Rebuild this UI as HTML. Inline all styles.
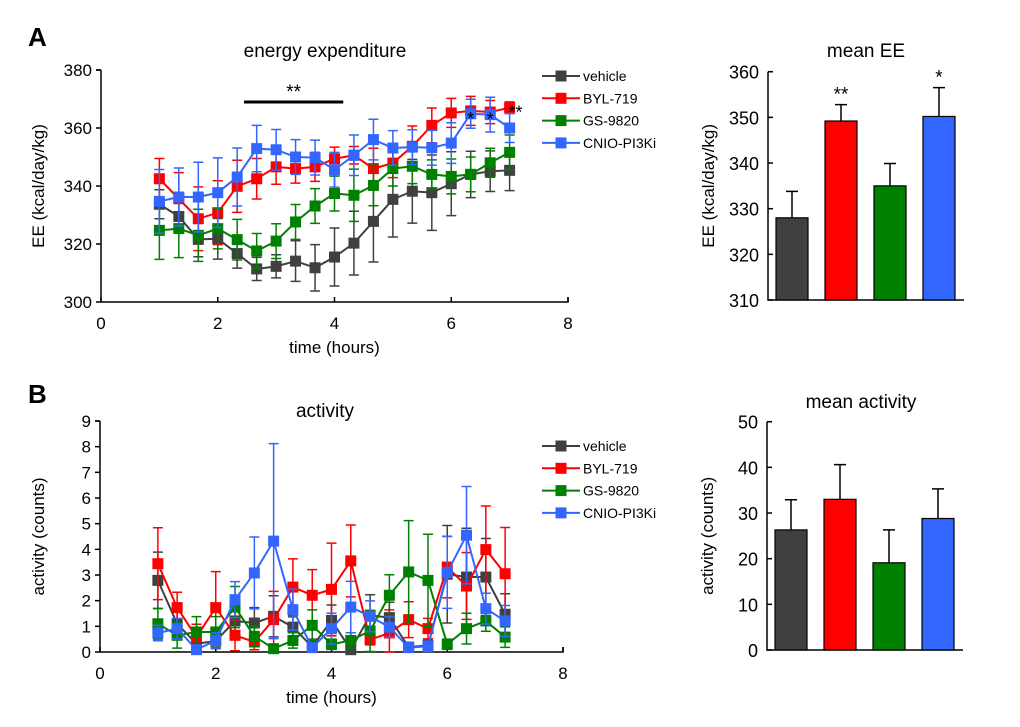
<!DOCTYPE html>
<html><head><meta charset="utf-8"><style>
body{margin:0;background:#fff;}
svg{display:block;font-family:"Liberation Sans",Arial,sans-serif;}
</style></head><body>
<svg id="fig" width="1020" height="727" viewBox="0 0 1020 727"></svg>
<script>
const xHours=[1,1.333,1.667,2,2.333,2.667,3,3.333,3.667,4,4.333,4.667,5,5.333,5.667,6,6.333,6.667,7];
const seriesNames=["vehicle","BYL-719","GS-9820","CNIO-PI3Ki"];
const colors=["#404040","#ff0000","#008000","#3366ff"];
const eeVehicle=[333.7,329.5,321.6,321.8,316.7,311.4,312.3,314.1,311.8,315.5,320.3,327.8,335.4,338.2,337.7,340.8,344.0,345.1,345.4];
const eeBYL=[342.5,335.6,328.7,330.8,339.9,342.5,346.6,346.0,346.6,349.4,350.6,346.0,347.9,353.7,360.9,365.2,365.9,365.5,367.0];
const eeGS=[324.7,325.3,323.0,325.3,321.5,317.6,321.0,327.6,333.1,337.4,336.8,340.2,346.0,346.8,344.0,343.3,344.0,348.0,351.6];
const eeCNIO=[334.7,336.2,336.2,337.7,343.1,352.9,352.5,350.0,349.8,345.6,350.6,356.0,353.1,353.4,353.2,354.8,364.9,364.6,360.0];
const eeErrVehicle=[5,5,6,7,5,4,4,7,8,10,11,14,13,11,13,11,8,7,7];
const eeErrBYL=[7,9,11,11,9,7,6,5,5,4,3,7,5,7,6,5,5,4,2];
const eeErrGS=[10,10,9,7,7,6,6,6,6,6,9,7,6,6,5,6,6,5,6];
const eeErrCNIO=[11,10,12,12,10,8,7,6,6,6,7,7,6,6,6,7,5,6,5];
const actVehicle=[2.79,1.10,0.32,0.43,1.21,1.13,1.39,0.97,0.2,1.23,0.09,1.43,1.34,0.19,0.26,3.03,2.92,2.92,1.47];
const actBYL=[3.44,1.73,0.58,1.73,0.65,0.39,1.26,2.53,2.21,2.44,3.55,0.48,0.74,1.26,0.91,3.31,2.57,3.99,3.05];
const actGS=[1.1,0.65,0.78,0.78,1.75,0.61,0.13,0.45,1.04,0.3,0.45,0.82,2.21,3.12,2.79,0.3,0.91,1.21,0.58];
const actCNIO=[0.74,0.91,0.09,0.45,2.04,3.08,4.32,1.65,0.17,0.91,1.75,1.39,0.97,0.17,0.22,3.1,4.55,1.69,1.21];
const actErrVehicle=[1.1,0.6,0.3,0.3,0.6,0.6,0.8,0.4,0.3,0.6,0.1,0.8,0.6,0.1,0.2,1.9,1.9,1.5,0.8];
const actErrBYL=[1.4,0.6,0.5,1.4,0.6,0.3,1.1,1.1,1.0,1.8,1.4,0.2,0.9,0.7,0.4,1.2,1.3,1.7,1.8];
const actErrGS=[0.6,0.5,0.6,0.6,0.8,0.4,0.1,0.3,0.6,0.2,0.3,0.8,0.8,2.0,1.8,0.2,0.6,0.4,0.4];
const actErrCNIO=[0.3,0.4,0.1,0.3,0.7,1.4,3.8,0.8,0.1,0.6,1.0,0.6,0.4,0.1,0.2,1.4,1.9,0.6,0.6];
const meanEE=[328,349.2,335,350.2];
const meanEEErr=[5.8,3.6,4.9,6.3];
const meanEEStars=["","**","","*"];
const meanAct=[26.3,33,19.1,28.8];
const meanActErr=[6.6,7.6,7.2,6.5];
const xTicks=[0,2,4,6,8];
const eeTicks=[300,320,340,360,380];
const actTicks=[0,1,2,3,4,5,6,7,8,9];
const meanEETicks=[310,320,330,340,350,360];
const meanActTicks=[0,10,20,30,40,50];

const NS="http://www.w3.org/2000/svg";
const svg=document.getElementById('fig');
function el(tag,attrs,parent,text){const e=document.createElementNS(NS,tag);for(const k in attrs)e.setAttribute(k,attrs[k]);if(text!==undefined)e.textContent=text;(parent||svg).appendChild(e);return e;}

function lineChart(cfg){
  const g=el('g',{});
  
  
  const xs=v=>cfg.x0+(v-0)/8*(cfg.x1-cfg.x0);
  const ys=v=>cfg.yB-(v-cfg.ymin)/(cfg.ymax-cfg.ymin)*(cfg.yB-cfg.yT);
  const ax=el('path',{d:`M${cfg.x0},${cfg.yT} h-5 M${cfg.x0},${cfg.yT} V${cfg.yB} H${cfg.x1} v-5`,stroke:'#000','stroke-width':1.5,fill:'none'},g);
  
  
  cfg.yticks.forEach(t=>{
    el('line',{x1:cfg.x0-5,x2:cfg.x0,y1:ys(t),y2:ys(t),stroke:'#000','stroke-width':1.5},g);
    const tx=el('text',{x:cfg.x0-9,y:ys(t)+6,'text-anchor':'end','font-size':17},g,t);
    
    
  });
  xTicks.forEach(t=>{
    el('line',{x1:xs(t),x2:xs(t),y1:cfg.yB,y2:cfg.yB-5,stroke:'#000','stroke-width':1.5},g);
    const tx=el('text',{x:xs(t),y:cfg.yB+27,'text-anchor':'middle','font-size':17},g,t);
    
    
  });
  cfg.series.forEach((s,i)=>{
    const sg=el('g',{},g);
    
    
    s.v.forEach((v,j)=>{
      const x=xs(xHours[j]),lo=Math.max(cfg.ymin,v-s.e[j]),hi=v+s.e[j];
      el('path',{d:`M${x},${ys(lo)}V${ys(hi)}M${x-5},${ys(lo)}h10M${x-5},${ys(hi)}h10`,stroke:colors[i],'stroke-width':1.5,fill:'none'},sg);
    });
    el('polyline',{points:s.v.map((v,j)=>xs(xHours[j])+','+ys(v)).join(' '),stroke:colors[i],'stroke-width':2,fill:'none'},sg);
    s.v.forEach((v,j)=>{
      const r=el('rect',{x:xs(xHours[j])-5.5,y:ys(v)-5.5,width:11,height:11,fill:colors[i]},sg);
      
      
    });
  });
  const tt=el('text',{x:cfg.tx,y:cfg.ty,'text-anchor':'middle','font-size':19},g,cfg.title);
  
  
  const xl=el('text',{x:(cfg.x0+cfg.x1)/2,y:cfg.yB+51,'text-anchor':'middle','font-size':17},g,'time (hours)');
  
  
  const yl=el('text',{x:0,y:0,'text-anchor':'middle','font-size':17,transform:`translate(${cfg.ylx},${(cfg.yT+cfg.yB)/2}) rotate(-90)`},g,cfg.ylabel);
  
  
  seriesNames.forEach((n,i)=>{
    const ly=cfg.legY+i*22.3;
    const lg=el('g',{},g);
    
    
    el('line',{x1:542,x2:580,y1:ly,y2:ly,stroke:colors[i],'stroke-width':2},lg);
    el('rect',{x:555.5,y:ly-5.5,width:11,height:11,fill:colors[i]},lg);
    el('text',{x:583,y:ly+5,'font-size':14},lg,n);
  });
  return {g,xs,ys};
}

const A=lineChart({name:'energy-expenditure-chart',x0:101,x1:568,yT:70,yB:302,ymin:300,ymax:380,yticks:eeTicks,
  series:[{v:eeVehicle,e:eeErrVehicle},{v:eeBYL,e:eeErrBYL},{v:eeGS,e:eeErrGS},{v:eeCNIO,e:eeErrCNIO}],
  title:'energy expenditure',tx:325,ty:57,ylabel:'EE (kcal/day/kg)',ylx:44,legY:76});
const sb=el('line',{x1:A.xs(2.45),x2:A.xs(4.15),y1:102,y2:102,stroke:'#000','stroke-width':3},A.g);


el('text',{x:A.xs(3.3),y:98,'text-anchor':'middle','font-size':19},A.g,'**');
[[6.333,eeCNIO[16],'*'],[6.667,eeCNIO[17],'*'],[7.1,eeBYL[18],'**']].forEach(s=>{
  el('text',{x:A.xs(s[0]),y:A.ys(s[1])+11,'text-anchor':'middle','font-size':18},A.g,s[2]);
});

lineChart({name:'activity-chart',x0:100,x1:563,yT:421,yB:652,ymin:0,ymax:9,yticks:actTicks,
  series:[{v:actVehicle,e:actErrVehicle},{v:actBYL,e:actErrBYL},{v:actGS,e:actErrGS},{v:actCNIO,e:actErrCNIO}],
  title:'activity',tx:325,ty:417,ylabel:'activity (counts)',ylx:44,legY:446});

function barChart(cfg){
  const g=el('g',{});
  
  
  const ys=v=>cfg.yB-(v-cfg.ymin)/(cfg.ymax-cfg.ymin)*(cfg.yB-cfg.yT);
  const ax=el('path',{d:`M${cfg.x0},${cfg.yT} h5 M${cfg.x0},${cfg.yT} V${cfg.yB} H${cfg.x0+196}`,stroke:'#000','stroke-width':1.5,fill:'none'},g);
  
  
  cfg.ticks.forEach(t=>{
    el('line',{x1:cfg.x0,x2:cfg.x0+5,y1:ys(t),y2:ys(t),stroke:'#000','stroke-width':1.5},g);
    const tx=el('text',{x:cfg.x0-9,y:ys(t)+7,'text-anchor':'end','font-size':18},g,t);
    
    
  });
  cfg.vals.forEach((v,i)=>{
    const x=cfg.x0+8+i*49,w=32;
    el('path',{d:`M${x+w/2},${ys(v)}V${ys(v+cfg.err[i])}M${x+w/2-6},${ys(v+cfg.err[i])}h12`,stroke:'#000','stroke-width':1.5,fill:'none'},g);
    const r=el('rect',{x:x,y:ys(v),width:w,height:cfg.yB-ys(v),fill:colors[i],stroke:'#000','stroke-width':1.2},g);
    
    
    if(cfg.stars&&cfg.stars[i]) el('text',{x:x+w/2,y:ys(v+cfg.err[i])-4,'text-anchor':'middle','font-size':19},g,cfg.stars[i]);
  });
  const tt=el('text',{x:cfg.tx,y:cfg.ty,'text-anchor':'middle','font-size':19},g,cfg.title);
  
  
  const yl=el('text',{x:0,y:0,'text-anchor':'middle','font-size':17,transform:`translate(${cfg.x0-54},${(cfg.yT+cfg.yB)/2}) rotate(-90)`},g,cfg.ylabel);
  
  
}
barChart({name:'mean-ee-chart',x0:768,yT:71.7,yB:300,ymin:310,ymax:360,ticks:meanEETicks,vals:meanEE,err:meanEEErr,stars:meanEEStars,title:'mean EE',tx:866,ty:57,ylabel:'EE (kcal/day/kg)'});
barChart({name:'mean-activity-chart',x0:767,yT:421.7,yB:650,ymin:0,ymax:50,ticks:meanActTicks,vals:meanAct,err:meanActErr,title:'mean activity',tx:861,ty:408,ylabel:'activity (counts)'});

const pa=el('text',{x:28,y:46,'font-size':26,'font-weight':'bold'},svg,'A');


const pb=el('text',{x:28,y:403,'font-size':26,'font-weight':'bold'},svg,'B');


</script>
</body></html>
